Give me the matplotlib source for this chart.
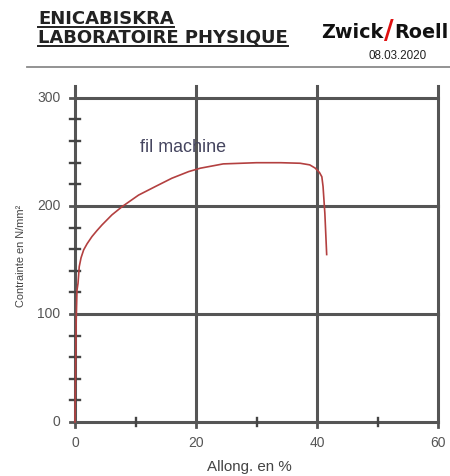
import matplotlib
matplotlib.use("Agg")
import matplotlib.pyplot as plt
from matplotlib.lines import Line2D

# Data
strain = [0, 0.1, 0.2, 0.33, 0.5, 0.7, 1.0, 1.43, 2.0, 2.8, 3.6, 4.46, 6.1,
          7.8, 10.5, 13.3, 16.0, 18.8, 20.7, 24.5, 30, 34, 37.2, 38.8, 39.7,
          40.4, 40.8, 41.0, 41.3, 41.6]
stress = [0, 50, 95, 122, 128.4, 143.8, 152, 159.3, 165, 171.6, 177, 182.4,
          191.7, 199.4, 210, 218, 225.6, 231.8, 234.9, 238.9, 240, 240, 239.5,
          238, 235, 231, 227, 218, 193, 155]

x_major = [0, 20, 40, 60]
x_minor = [10, 30, 50]
y_major = [0, 100, 200, 300]
y_minor = [20, 40, 60, 80, 120, 140, 160, 180, 220, 240, 260, 280]

title_lines = ["ENICABISKRA", "LABORATOIRE PHYSIQUE"]
curve_label = "fil machine"
date_text = "08.03.2020"
xlabel = "Allong. en %"
ylabel = "Contrainte en N/mm²"

W, H = 450, 476
fig = plt.figure(figsize=(W / 100, H / 100), dpi=100)
fig.patch.set_facecolor("white")
fig.canvas.draw()
R = fig.canvas.get_renderer()


def fx(px):
    return px / W


def fy(py):
    return 1 - py / H


def fit(t, target_px, horizontal=True):
    """Scale a text's font size so that its extent matches target_px."""
    bb = t.get_window_extent(R)
    size = bb.width if horizontal else bb.height
    t.set_fontsize(t.get_fontsize() * target_px / size)
    return t


ax = fig.add_axes([fx(75), fy(422), fx(438) - fx(75), fy(86) - fy(422)])
ax.set_xlim(0, 60)
ax.set_ylim(0, 311)
for s in ax.spines.values():
    s.set_visible(False)
ax.set_xticks([])
ax.set_yticks([])
ax.patch.set_alpha(0)

gc = "#555555"
glw = 2.2
for xv in x_major:
    ax.axvline(xv, color=gc, lw=glw, zorder=1, clip_on=False)
for yv in y_major:
    ax.axhline(yv, color=gc, lw=glw, zorder=1, clip_on=False)

# tick marks
for yv in y_minor:
    ax.plot([-0.75, 0.75], [yv, yv], color="#444444", lw=1.7, clip_on=False,
            zorder=2)
for yv in y_major:
    ax.plot([-0.9, 0], [yv, yv], color=gc, lw=2.0, clip_on=False, zorder=2)
for xv in x_minor:
    ax.plot([xv, xv], [-4, 4], color="#444444", lw=1.7, clip_on=False,
            zorder=2)
for xv in x_major:
    ax.plot([xv, xv], [-5, 0], color=gc, lw=2.0, clip_on=False, zorder=2)

# tick labels
tc = "#555555"
for yv in y_major:
    ax.text(-2.4, yv, str(yv), ha="right", va="center", fontsize=10,
            color=tc, family="Liberation Sans")
for xv in x_major:
    ax.text(xv, -13, str(xv), ha="center", va="top", fontsize=10,
            color=tc, family="Liberation Sans")

ax.plot(strain, stress, color="#b34040", lw=1.2, zorder=3, clip_on=False,
        solid_joinstyle="round")
lbl = ax.text(10.7, 254, curve_label, fontsize=12, color="#45455f",
              family="Liberation Sans", va="center", ha="left")
fit(lbl, 86)

xl = fig.text(fx(249), fy(467), xlabel, ha="center", va="center",
              fontsize=10, color="#444444", family="Liberation Sans")
fit(xl, 85)
yl = fig.text(fx(21), fy(256), ylabel, ha="center", va="center", fontsize=8,
              color="#444444", family="Liberation Sans", rotation=90)
fit(yl, 103, horizontal=False)

# header
t1 = fig.text(fx(38), fy(19), title_lines[0], ha="left", va="center",
              fontsize=11, fontweight="bold", color="#222222",
              family="DejaVu Sans")
t2 = fig.text(fx(38), fy(37.5), title_lines[1], ha="left", va="center",
              fontsize=11, fontweight="bold", color="#222222",
              family="DejaVu Sans")
fit(t2, 250)
t1.set_fontsize(t2.get_fontsize())
for t, py in ((t1, 27), (t2, 46)):
    bb = t.get_window_extent(R)
    fig.lines.append(Line2D([bb.x0 / W, bb.x1 / W], [fy(py), fy(py)],
                            transform=fig.transFigure, color="#222222",
                            lw=1.4))

z = fig.text(fx(321), fy(33), "Zwick", ha="left", va="center", fontsize=11,
             fontweight="bold", color="#111111", family="DejaVu Sans")
fit(z, 62)
bz = z.get_window_extent(R)
sl = fig.text(bz.x1 / W + fx(1), fy(32), "/", ha="left", va="center",
              fontsize=19, fontweight="heavy", color="#e01010",
              family="DejaVu Sans")
bs = sl.get_window_extent(R)
fig.text(bs.x1 / W, fy(33), "Roell", ha="left", va="center",
         fontsize=z.get_fontsize(), fontweight="bold", color="#111111",
         family="DejaVu Sans")
dt = fig.text(fx(398), fy(56), date_text, ha="center", va="center",
              fontsize=7, color="#222222", family="Liberation Sans")
fit(dt, 58)

fig.lines.append(Line2D([fx(27), fx(450)], [fy(67), fy(67)],
                        transform=fig.transFigure, color="#8a8a8a", lw=1.3))

fig.savefig("out.png", dpi=100, facecolor="white")
